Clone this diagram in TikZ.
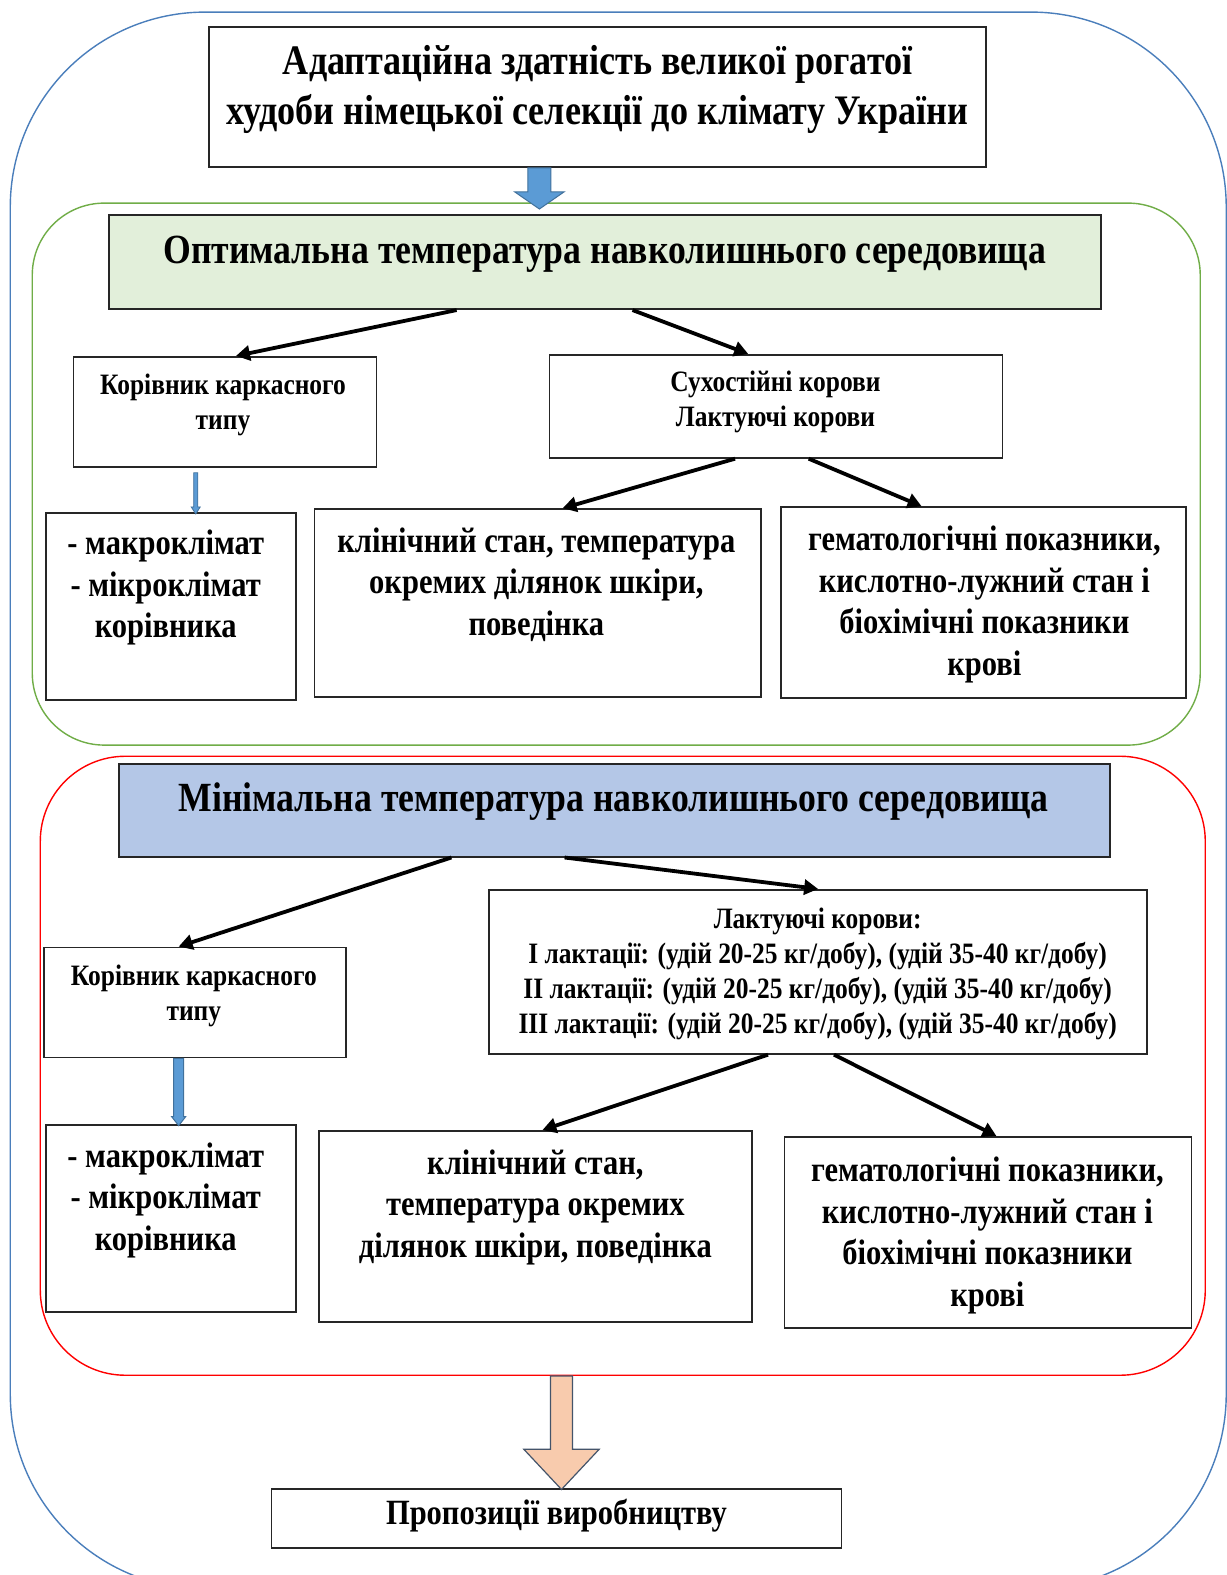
\documentclass[tikz,border=0pt]{standalone}
\usepackage{fontspec}
\setmainfont{Liberation Serif}[FakeStretch=0.86]
\usetikzlibrary{arrows.meta,calc}
\definecolor{outerblue}{HTML}{4A7EBB}
\definecolor{grn}{HTML}{70AD47}
\definecolor{grnfill}{HTML}{E2EFDA}
\definecolor{bluefill}{HTML}{B4C7E7}
\definecolor{arrblue}{HTML}{5B9BD5}
\definecolor{arrbluedk}{HTML}{41719C}
\definecolor{salmon}{HTML}{F8CBAD}
\definecolor{slate}{HTML}{44546A}
\begin{document}
\begin{tikzpicture}[x=1.0045pt,y=-1.0045pt,
  box/.style={draw=black!85, line width=1.8pt, rectangle, inner sep=0pt, fill=white},
  cont/.style={rectangle, inner sep=0pt, line width=1.4pt},
  lbl/.style={align=center, inner sep=0pt},
  ttl/.style={font=\fontsize{42}{50}\selectfont\bfseries},
  hdr/.style={font=\fontsize{41.5}{46}\selectfont\bfseries},
  sml/.style={font=\fontsize{29.6}{35}\selectfont\bfseries},
  bdy/.style={font=\fontsize{35.5}{41.5}\selectfont\bfseries},
  conn/.style={line width=3.8pt, -{Triangle[length=14pt,width=15pt]}},
  barrow/.style={fill=arrblue, draw=arrbluedk, line width=1pt},
  sarrow/.style={fill=salmon, draw=slate, line width=1.2pt}
]
\useasboundingbox (0,0) rectangle (1221.5,1568);
\clip (0,0) rectangle (1221.5,1568);
\fill[white] (0,0) rectangle (1221.5,1568);

% containers
\node[cont, draw=outerblue, rounded corners=195pt, minimum width=1216pt, minimum height=1577pt] (oc) at (615.5,797) {};
\node[cont, draw=grn, rounded corners=72pt, minimum width=1168pt, minimum height=542pt] (gc) at (613.5,472) {};
\node[cont, draw=red, rounded corners=85pt, minimum width=1165pt, minimum height=619pt] (rc) at (620,1061) {};

% boxes
\node[box, minimum width=777pt, minimum height=140pt] (t) at (595,96.5) {};
\node[box, fill=grnfill, minimum width=992pt, minimum height=94pt] (hg) at (602,261) {};
\node[box, minimum width=303pt, minimum height=110pt] (k1) at (224,410) {};
\node[box, minimum width=453pt, minimum height=103pt] (s1) at (772.5,404.5) {};
\node[box, minimum width=250pt, minimum height=187pt] (m1) at (170.5,604) {};
\node[box, minimum width=447pt, minimum height=188pt] (c1) at (535.5,600.5) {};
\node[box, minimum width=405pt, minimum height=191pt] (g1) at (979.5,600) {};
\node[box, fill=bluefill, minimum width=991pt, minimum height=93pt] (hr) at (611.5,806.5) {};
\node[box, minimum width=302pt, minimum height=110pt] (k2) at (194.5,998) {};
\node[box, minimum width=658pt, minimum height=164pt] (L) at (814.5,967.5) {};
\node[box, minimum width=250pt, minimum height=187pt] (m2) at (170.5,1213) {};
\node[box, minimum width=433pt, minimum height=191pt] (c2) at (533.5,1221) {};
\node[box, minimum width=407pt, minimum height=191pt] (g2) at (983.5,1227) {};
\node[box, minimum width=570pt, minimum height=59pt] (p) at (554,1511.5) {};

% texts
\node[lbl, ttl] (tT) at (595,89) {Адаптаційна здатність великої рогатої\\худоби німецької селекції до клімату України};
\node[lbl, hdr] (hgT) at (602,253) {Оптимальна температура навколишнього середовища};
\node[lbl, sml] (k1T) at (222,403) {Корівник каркасного\\типу};
\node[lbl, sml] (s1T) at (772,400) {Сухостійні корови\\Лактуючі корови};
\node[lbl, bdy] (m1T) at (165,585) {- макроклімат\\- мікроклімат\\корівника};
\node[lbl, bdy] (c1T) at (534,582) {клінічний стан, температура\\окремих ділянок шкіри,\\поведінка};
\node[lbl, bdy] (g1T) at (980,602) {гематологічні показники,\\кислотно-лужний стан і\\біохімічні показники\\крові};
\node[lbl, hdr] (hrT) at (611,798) {Мінімальна температура навколишнього середовища};
\node[lbl, sml] (k2T) at (193,991) {Корівник каркасного\\типу};
\node[lbl, sml] (LT) at (814,970) {Лактуючі корови:\\I лактації: (удій 20-25 кг/добу), (удій 35-40 кг/добу)\\II лактації: (удій 20-25 кг/добу), (удій 35-40 кг/добу)\\III лактації: (удій 20-25 кг/добу), (удій 35-40 кг/добу)};
\node[lbl, bdy] (m2T) at (165,1195) {- макроклімат\\- мікроклімат\\корівника};
\node[lbl, bdy] (c2T) at (533,1202) {клінічний стан,\\температура окремих\\ділянок шкіри, поведінка};
\node[lbl, bdy] (g2T) at (983,1230) {гематологічні показники,\\кислотно-лужний стан і\\біохімічні показники\\крові};
\node[lbl, bdy] (pT) at (554,1509) {Пропозиції виробництву};

% black connectors
\draw[conn] ($(hg.south west)!0.351!(hg.south east)$) -- ($(k1.north west)!0.536!(k1.north east)$);
\draw[conn] ($(hg.south west)!0.528!(hg.south east)$) -- ($(s1.north west)!0.439!(s1.north east)$);
\draw[conn] ($(s1.south west)!0.41!(s1.south east)$) -- ($(c1.north west)!0.555!(c1.north east)$);
\draw[conn] ($(s1.south west)!0.572!(s1.south east)$) -- ($(g1.north west)!0.347!(g1.north east)$);
\draw[conn] ($(hr.south west)!0.336!(hr.south east)$) -- ($(k2.north west)!0.445!(k2.north east)$);
\draw[conn] ($(hr.south west)!0.45!(hr.south east)$) -- ($(L.north west)!0.5!(L.north east)$);
\draw[conn] ($(L.south west)!0.424!(L.south east)$) -- ($(c2.north west)!0.515!(c2.north east)$);
\draw[conn] ($(L.south west)!0.524!(L.south east)$) -- ($(g2.north west)!0.521!(g2.north east)$);

% block arrows
\draw[barrow] ($(t.south)+(-69.5,0)$) -- ++(23,0) -- ++(0,24) -- ++(13,0) -- ++(-24.5,17) -- ++(-24.5,-17) -- ++(13,0) -- cycle;
\coordinate (a2) at ($(k1.south west)!0.404!(k1.south east)$);
\draw[barrow, line width=0.8pt] ($(a2)+(-2,5)$) -- ++(4,0) -- ++(0,34) -- ++(2.5,0) -- ++(-4.5,7) -- ++(-4.5,-7) -- ++(2.5,0) -- cycle;
\coordinate (a3) at ($(k2.south west)!0.445!(k2.south east)$);
\draw[barrow] ($(a3)+(-5,0)$) -- ++(10,0) -- ++(0,58) -- ++(2,0) -- ++(-7,9) -- ++(-7,-9) -- ++(2,0) -- cycle;
\draw[sarrow] ($(rc.south)+(-72,0)$) -- ++(22,0) -- ++(0,73) -- ++(26.5,0) -- ++(-37.5,40) -- ++(-37.5,-40) -- ++(26.5,0) -- cycle;
\end{tikzpicture}
\end{document}
